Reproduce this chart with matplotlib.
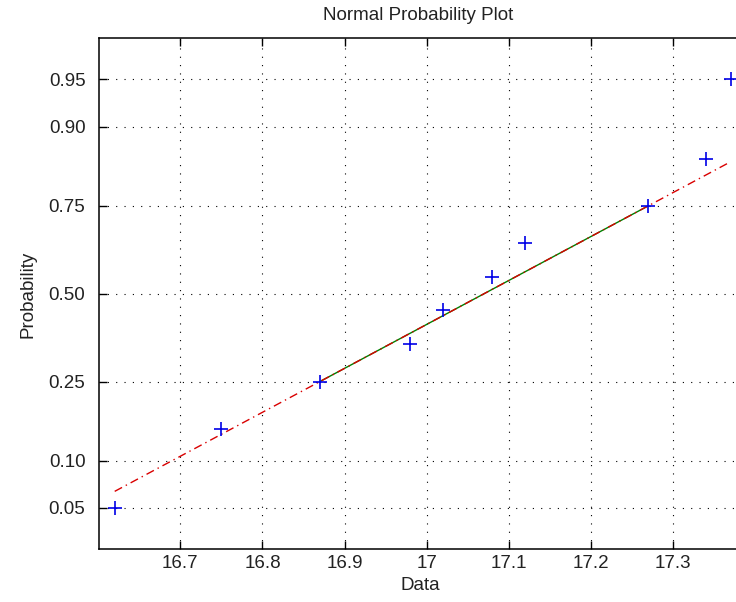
import numpy as np
import matplotlib
matplotlib.use('Agg')
import matplotlib.pyplot as plt
from statistics import NormalDist

# ---- data ----
data = [16.62, 16.75, 16.87, 16.98, 17.02, 17.08, 17.12, 17.27, 17.34, 17.37]
probs = [0.05, 0.15, 0.25, 0.35, 0.45, 0.55, 0.65, 0.75, 0.85, 0.95]
quart_x = [16.87, 17.27]      # 25th / 75th percentile of data
quart_p = [0.25, 0.75]
prob_ticks = [0.05, 0.10, 0.25, 0.50, 0.75, 0.90, 0.95]
prob_tick_labels = ['0.05', '0.10', '0.25', '0.50', '0.75', '0.90', '0.95']
x_ticks = [16.7, 16.8, 16.9, 17.0, 17.1, 17.2, 17.3]
x_tick_labels = ['16.7', '16.8', '16.9', '17', '17.1', '17.2', '17.3']
title = 'Normal Probability Plot'
xlabel = 'Data'
ylabel = 'Probability'

_nd = NormalDist()
_ppf = np.vectorize(lambda p: _nd.inv_cdf(min(max(float(p), 1e-12), 1 - 1e-12)), otypes=[float])
_cdf = np.vectorize(lambda z: _nd.cdf(float(z)), otypes=[float])

def fwd(p):
    return _ppf(np.asarray(p, dtype=float))

def inv(z):
    return _cdf(np.asarray(z, dtype=float))

plt.rcParams['font.family'] = ['Liberation Sans', 'DejaVu Sans']
FS = 13.5
TXT = '#222222'

fig = plt.figure(figsize=(7.36, 6.02), dpi=100)
fig.patch.set_facecolor('white')
W, H = 736, 602
left, right, top, bottom = 99.3, 745.9, 38.3, 549.0
ax = fig.add_axes([left / W, 1 - bottom / H, (right - left) / W, (bottom - top) / H])
ax.set_yscale('function', functions=(fwd, inv))

# fitted line through quartiles, extended to data range
zq = [_nd.inv_cdf(p) for p in quart_p]
slope = (zq[1] - zq[0]) / (quart_x[1] - quart_x[0])
ext_x = [min(data), max(data)]
ext_p = [_nd.cdf(zq[0] + slope * (x - quart_x[0])) for x in ext_x]

ax.plot(quart_x, quart_p, '-', color=(0, 0.5, 0), lw=1.0, zorder=3)
ax.plot(ext_x, ext_p, color=(0.85, 0, 0), lw=1.0, dashes=[6, 3, 1, 3], zorder=4)
ax.plot(data, probs, '+', color=(0, 0, 0.9), ms=10, mew=1.2, zorder=5)

n = len(data)
rng = max(data) - min(data)
ax.set_xlim(min(data) - 0.025 * rng, max(data) + 0.025 * rng)
ax.set_ylim(0.25 / n, (n - 0.25) / n)

ax.set_xticks(x_ticks)
ax.set_xticklabels(x_tick_labels)
ax.set_yticks(prob_ticks)
ax.set_yticklabels(prob_tick_labels)
ax.minorticks_off()
ax.tick_params(axis='both', which='both', direction='in', length=6, width=1.0,
               top=True, right=True, labelsize=FS, colors='black', labelcolor=TXT)
ax.tick_params(axis='x', pad=4)
ax.tick_params(axis='y', pad=10)
ax.grid(True, color='black', linestyle=(0, (1, 6.5)), linewidth=0.8)
for s in ax.spines.values():
    s.set_linewidth(1.1)
    s.set_color('black')

fig.text(418 / W, 1 - 15 / H, title, ha='center', va='center', fontsize=FS, color=TXT)
fig.text(420 / W, 1 - 585 / H, xlabel, ha='center', va='center', fontsize=FS, color=TXT)
fig.text(28 / W, 1 - 294 / H, ylabel, ha='center', va='center', rotation=90, fontsize=FS, color=TXT)

fig.savefig('out.png', dpi=100, facecolor='white')
